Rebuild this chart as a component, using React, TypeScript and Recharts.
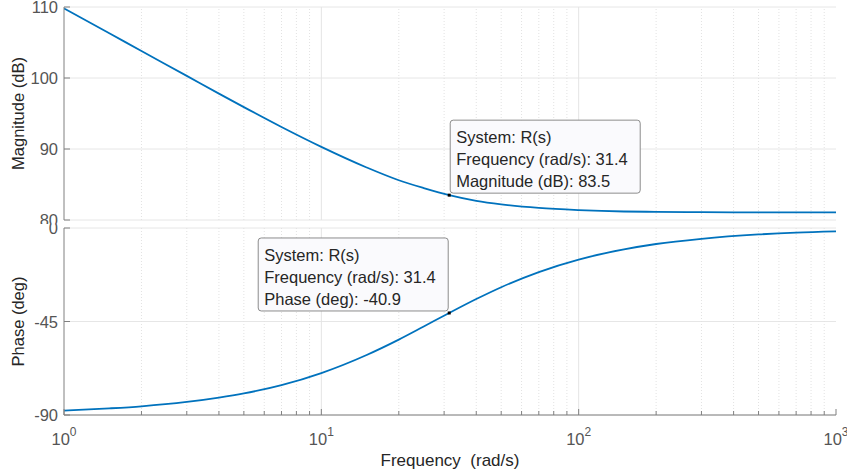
import React from "react";
import {
  LineChart,
  Line,
  XAxis,
  YAxis,
  CartesianGrid,
  ReferenceLine,
  ReferenceDot,
  Label,
} from "recharts";

// frequency points (rad/s) and the values
const freq = [1, 1.5, 2, 3, 4, 5, 7, 10, 15, 20, 25, 31.4, 40, 50, 70, 100, 150, 200, 300, 500, 700, 1000];
const magnitude = [109.8, 106.3, 103.8, 100.3, 97.8, 95.9, 93.1, 90.3, 87.4, 85.6, 84.5, 83.5, 82.7, 82.2, 81.7, 81.4, 81.2, 81.15, 81.1, 81.08, 81.08, 81.07];
const phase = [-87.9, -86.8, -85.8, -83.7, -81.6, -79.6, -75.6, -69.8, -61.1, -53.7, -47.4, -40.9, -34.2, -28.5, -21.2, -15.2, -10.3, -7.7, -5.2, -3.1, -2.2, -1.6];

const majorX = [1, 10, 100, 1000];
const minorX = [2, 3, 4, 5, 6, 7, 8, 9, 20, 30, 40, 50, 60, 70, 80, 90, 200, 300, 400, 500, 600, 700, 800, 900];
const allX = [...majorX, ...minorX].sort((a, b) => a - b);
const magTicks = [80, 90, 100, 110];
const phaseTicks = [-90, -45, 0];

const tipFreq = 31.4;
const tipMag = 83.5;
const tipPhase = -40.9;

const magData = freq.map((f, i) => ({ f, v: magnitude[i] }));
const phaseData = freq.map((f, i) => ({ f, v: phase[i] }));

const FONT = "'Liberation Sans', Arial, Helvetica, sans-serif";
const AXIS = "#808080";
const TICKTXT = "#555555";
const LABELTXT = "#262626";
const LINE = "#0072BD";

const xTick = (dir: number, showLabel: boolean) => (props: any) => {
  const { x, y, payload } = props;
  const v = payload.value;
  const major = majorX.includes(v);
  const exp = Math.round(Math.log10(v));
  return (
    <g>
      <line x1={x} x2={x} y1={y} y2={y + dir * (major ? 6 : 4)} stroke={AXIS} />
      {showLabel && major && (
        <text x={x} y={y + 30} textAnchor="middle" fontFamily={FONT} fontSize={16.5} fill={TICKTXT}>
          <tspan>10</tspan>
          <tspan dy={-9} fontSize={12}>{exp}</tspan>
        </text>
      )}
    </g>
  );
};

const yTick = (dir: number, showLabel: boolean) => (props: any) => {
  const { x, y, payload } = props;
  return (
    <g>
      <line x1={x} x2={x + dir * 6} y1={y} y2={y} stroke={AXIS} />
      {showLabel && (
        <text x={x - 6} y={y} dy={6} textAnchor="end" fontFamily={FONT} fontSize={16.5} fill={TICKTXT}>
          {payload.value}
        </text>
      )}
    </g>
  );
};

const yLabel = (text: string) => (props: any) => {
  const { viewBox } = props;
  const cx = 18;
  const cy = viewBox.y + viewBox.height / 2;
  return (
    <text
      x={cx}
      y={cy}
      transform={`rotate(-90 ${cx} ${cy})`}
      dy={6}
      textAnchor="middle"
      fontFamily={FONT}
      fontSize={16.5}
      fill={LABELTXT}
    >
      {text}
    </text>
  );
};

const freqLabel = (props: any) => {
  const { viewBox } = props;
  return (
    <text
      x={viewBox.x + viewBox.width / 2}
      y={viewBox.y + 51}
      textAnchor="middle"
      fontFamily={FONT}
      fontSize={17}
      fill={LABELTXT}
      style={{ whiteSpace: "pre" }}
    >
      {"Frequency  (rad/s)"}
    </text>
  );
};

// MATLAB-style data tip: box offset from the marked point
const dataTip = (lines: string[], dx: number, dy: number, w: number) => (props: any) => {
  const { cx, cy } = props;
  return (
    <g>
      <rect x={cx + dx} y={cy + dy} width={w} height={73} rx={3} fill="#fafafd" stroke="#8c8c8c" />
      {lines.map((t, i) => (
        <text key={i} x={cx + dx + 6} y={cy + dy + 23 + i * 22} fontFamily={FONT} fontSize={16.5} fill="#262626">
          {t}
        </text>
      ))}
      <rect x={cx - 1.5} y={cy - 1.5} width={3} height={3} fill="#000" />
    </g>
  );
};

const gridLines = () => [
  ...minorX.map((v) => (
    <ReferenceLine key={"m" + v} x={v} stroke="#e2e2e2" strokeDasharray="1 2" />
  )),
  ...[10, 100].map((v) => <ReferenceLine key={"M" + v} x={v} stroke="#e4e4e4" />),
];

export default function App() {
  const xCommon = {
    type: "number" as const,
    dataKey: "f",
    scale: "log" as const,
    domain: [1, 1000],
    ticks: allX,
    interval: 0 as const,
    allowDataOverflow: true,
    tickSize: 0,
    tickMargin: 0,
    tickLine: false,
    axisLine: { stroke: AXIS },
  };
  return (
    <div style={{ position: "absolute", left: 0, top: 0, width: 847, height: 476, background: "#fff" }}>
      <LineChart width={847} height={224} data={magData} margin={{ top: 7, right: 11, bottom: 4, left: 0 }}>
        <CartesianGrid vertical={false} stroke="#e6e6e6" />
        {gridLines()}
        <XAxis {...xCommon} height={0} tick={xTick(-1, false)} />
        <XAxis {...xCommon} xAxisId="top" orientation="top" height={0} tick={xTick(1, false)} />
        <YAxis
          type="number"
          domain={[80, 110]}
          ticks={magTicks}
          interval={0}
          width={64}
          tickSize={0}
          tickMargin={0}
          tickLine={false}
          axisLine={{ stroke: AXIS }}
          tick={yTick(1, true)}
        >
          <Label content={yLabel("Magnitude (dB)")} />
        </YAxis>
        <YAxis
          yAxisId="right"
          orientation="right"
          type="number"
          domain={[80, 110]}
          ticks={magTicks}
          interval={0}
          width={0}
          tickSize={0}
          tickMargin={0}
          tickLine={false}
          axisLine={{ stroke: AXIS }}
          tick={yTick(-1, false)}
        />
        <Line type="monotone" dataKey="v" stroke={LINE} strokeWidth={1.8} dot={false} isAnimationActive={false} />
        <ReferenceDot
          x={tipFreq}
          y={tipMag}
          shape={dataTip(
            ["System: R(s)", `Frequency (rad/s): ${tipFreq}`, `Magnitude (dB): ${tipMag}`],
            1,
            -75,
            190
          )}
        />
      </LineChart>
      <LineChart width={847} height={252} data={phaseData} margin={{ top: 4, right: 11, bottom: 0, left: 0 }}>
        <CartesianGrid vertical={false} stroke="#e6e6e6" />
        {gridLines()}
        <XAxis {...xCommon} height={61} tick={xTick(-1, true)}>
          <Label content={freqLabel} />
        </XAxis>
        <XAxis {...xCommon} xAxisId="top" orientation="top" height={0} tick={xTick(1, false)} />
        <YAxis
          type="number"
          domain={[-90, 0]}
          ticks={phaseTicks}
          interval={0}
          width={64}
          tickSize={0}
          tickMargin={0}
          tickLine={false}
          axisLine={{ stroke: AXIS }}
          tick={yTick(1, true)}
        >
          <Label content={yLabel("Phase (deg)")} />
        </YAxis>
        <YAxis
          yAxisId="right"
          orientation="right"
          type="number"
          domain={[-90, 0]}
          ticks={phaseTicks}
          interval={0}
          width={0}
          tickSize={0}
          tickMargin={0}
          tickLine={false}
          axisLine={{ stroke: AXIS }}
          tick={yTick(-1, false)}
        />
        <Line type="monotone" dataKey="v" stroke={LINE} strokeWidth={1.8} dot={false} isAnimationActive={false} />
        <ReferenceDot
          x={tipFreq}
          y={tipPhase}
          shape={dataTip(
            ["System: R(s)", `Frequency (rad/s): ${tipFreq}`, `Phase (deg): ${tipPhase}`],
            -191,
            -75,
            190
          )}
        />
      </LineChart>
    </div>
  );
}
